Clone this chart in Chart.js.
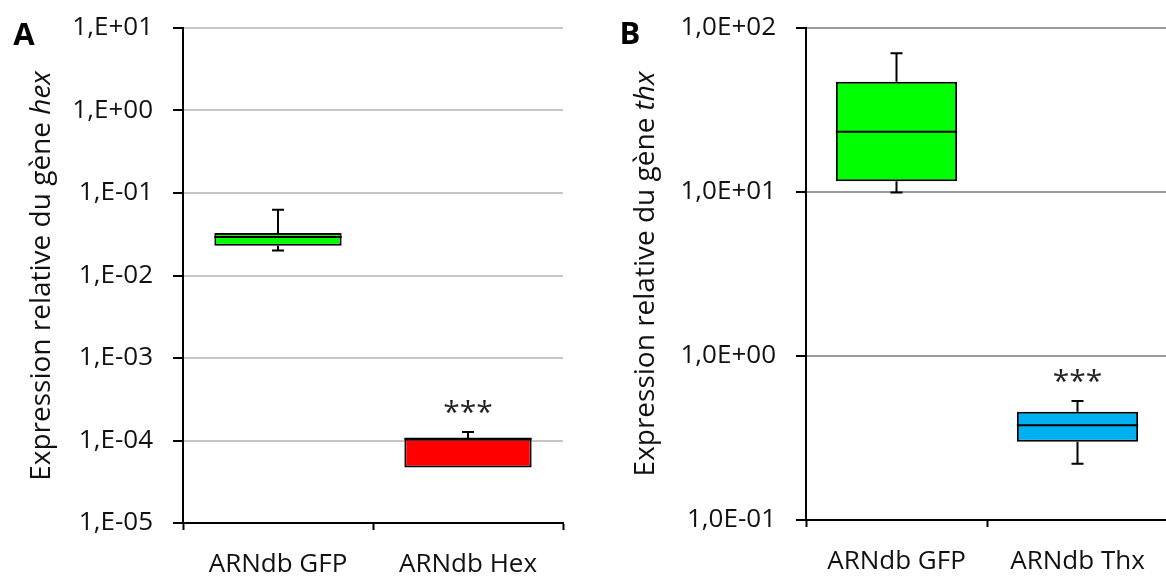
<!DOCTYPE html>
<html lang="fr">
<head>
    <meta charset="UTF-8">
    <title>Expression relative hex / thx</title>
    <script src="https://cdn.jsdelivr.net/npm/chart.js"></script>
    <style>
        html, body { margin: 0; padding: 0; background: #fff; overflow: hidden; }
        .panel { position: absolute; top: 0; }
    </style>
</head>
<body>
    <div class="panel" style="left:0"><canvas id="chartA" width="590" height="581"></canvas></div>
    <div class="panel" style="left:590px"><canvas id="chartB" width="580" height="581"></canvas></div>

    <script>
        // Panel A - hex
        const catsA = ['ARNdb GFP', 'ARNdb Hex'];
        const minA = [0.0201, 0.000047];
        const q1A = [0.0230, 0.000047];
        const medA = [0.0293, 0.000105];
        const q3A = [0.0327, 0.000105];
        const maxA = [0.0628, 0.000127];
        const colorsA = ['#00ff00', '#ff0000'];
        const starsA = ['', '***'];
        const tickValsA = [1e-5, 1e-4, 1e-3, 1e-2, 1e-1, 1e0, 1e1];
        const tickLabelsA = ['1,E-05', '1,E-04', '1,E-03', '1,E-02', '1,E-01', '1,E+00', '1,E+01'];

        // Panel B - thx
        const catsB = ['ARNdb GFP', 'ARNdb Thx'];
        const minB = [9.9, 0.220];
        const q1B = [11.6, 0.300];
        const medB = [23.2, 0.378];
        const q3B = [46.8, 0.457];
        const maxB = [69.7, 0.531];
        const colorsB = ['#00ff00', '#00b0f0'];
        const starsB = ['', '***'];
        const tickValsB = [1e-1, 1e0, 1e1, 1e2];
        const tickLabelsB = ['1,0E-01', '1,0E+00', '1,0E+01', '1,0E+02'];

        const FONT = "'Open Sans', sans-serif";

        // whiskers, median line and significance stars
        const boxExtras = {
            id: 'boxExtras',
            afterDatasetsDraw(chart, args, opts) {
                const ctx = chart.ctx;
                const y = chart.scales.y;
                const bars = chart.getDatasetMeta(0).data;
                ctx.save();
                ctx.strokeStyle = '#000';
                ctx.lineWidth = 2;
                bars.forEach((bar, i) => {
                    const x = bar.x, half = bar.width / 2;
                    const pMin = y.getPixelForValue(opts.min[i]);
                    const pMax = y.getPixelForValue(opts.max[i]);
                    const pQ1 = y.getPixelForValue(opts.q1[i]);
                    const pQ3 = y.getPixelForValue(opts.q3[i]);
                    const pMed = y.getPixelForValue(opts.med[i]);
                    ctx.beginPath();
                    if (pMax < pQ3) {
                        ctx.moveTo(x, pQ3); ctx.lineTo(x, pMax);
                        ctx.moveTo(x - 6, pMax); ctx.lineTo(x + 6, pMax);
                    }
                    if (pMin > pQ1) {
                        ctx.moveTo(x, pQ1); ctx.lineTo(x, pMin);
                        ctx.moveTo(x - 6, pMin); ctx.lineTo(x + 6, pMin);
                    }
                    ctx.moveTo(x - half, pMed); ctx.lineTo(x + half, pMed);
                    ctx.stroke();
                    if (opts.stars[i]) {
                        ctx.fillStyle = '#222';
                        ctx.font = '30px ' + FONT;
                        ctx.textAlign = 'center';
                        ctx.textBaseline = 'alphabetic';
                        ctx.fillText(opts.stars[i], x, pMax - 10);
                    }
                });
                ctx.restore();
            }
        };

        // rotated y title with italic gene name, plus the panel letter
        const panelText = {
            id: 'panelText',
            afterDraw(chart, args, opts) {
                const ctx = chart.ctx;
                ctx.save();
                ctx.fillStyle = '#000';
                ctx.font = 'bold 31px ' + FONT;
                ctx.textAlign = 'center';
                ctx.textBaseline = 'middle';
                ctx.fillText(opts.letter, opts.letterX, opts.letterY);

                ctx.fillStyle = '#111';
                ctx.translate(opts.titleX, opts.titleY);
                ctx.rotate(-Math.PI / 2);
                const normal = '28px ' + FONT, italic = 'italic 28px ' + FONT;
                ctx.font = normal;
                const w1 = ctx.measureText(opts.title).width;
                ctx.font = italic;
                const w2 = ctx.measureText(opts.gene).width;
                let x0 = -(w1 + w2) / 2;
                ctx.textAlign = 'left';
                ctx.font = normal;
                ctx.fillText(opts.title, x0, 0);
                ctx.font = italic;
                ctx.fillText(opts.gene, x0 + w1, 0);
                ctx.restore();
            }
        };

        function makeChart(id, cfg) {
            return new Chart(document.getElementById(id), {
                type: 'bar',
                data: {
                    labels: cfg.cats,
                    datasets: [{
                        data: cfg.q1.map((v, i) => [v, cfg.q3[i]]),
                        backgroundColor: cfg.colors,
                        borderColor: '#000',
                        borderWidth: 2,
                        borderSkipped: false,
                        barPercentage: 0.67,
                        categoryPercentage: 1
                    }]
                },
                options: {
                    responsive: false,
                    animation: false,
                    layout: { padding: { left: 0, top: cfg.padTop, right: cfg.padRight, bottom: 0 } },
                    plugins: {
                        legend: { display: false },
                        tooltip: { enabled: false },
                        boxExtras: { min: cfg.min, q1: cfg.q1, med: cfg.med, q3: cfg.q3, max: cfg.max, stars: cfg.stars },
                        panelText: cfg.text
                    },
                    scales: {
                        x: {
                            grid: { offset: true, drawOnChartArea: false, tickLength: 7, tickColor: '#000', tickWidth: 2 },
                            border: { color: '#000', width: 2 },
                            ticks: { color: '#111', padding: 19, font: { family: FONT, size: 26 } },
                            afterFit: s => { s.height = cfg.xHeight; s.paddingLeft = 0; s.paddingRight = 0; }
                        },
                        y: {
                            type: 'logarithmic',
                            min: cfg.tickVals[0],
                            max: cfg.tickVals[cfg.tickVals.length - 1],
                            afterBuildTicks: s => { s.ticks = cfg.tickVals.map(v => ({ value: v })); },
                            afterFit: s => { s.width = cfg.yWidth; s.paddingTop = 0; s.paddingBottom = 0; },
                            grid: { color: cfg.gridColor, lineWidth: 2, tickLength: 10, tickColor: '#000', tickWidth: 2 },
                            border: { color: '#000', width: 2 },
                            ticks: {
                                color: '#111',
                                padding: 20,
                                font: { family: FONT, size: 26 },
                                callback: (v, i) => cfg.tickLabels[i]
                            }
                        }
                    }
                },
                plugins: [boxExtras, panelText]
            });
        }

        makeChart('chartA', {
            cats: catsA, min: minA, q1: q1A, med: medA, q3: q3A, max: maxA,
            colors: colorsA, stars: starsA, tickVals: tickValsA, tickLabels: tickLabelsA,
            gridColor: '#c6c6c6', yWidth: 183, xHeight: 58, padTop: 28, padRight: 27,
            text: { letter: 'A', letterX: 24, letterY: 36, title: 'Expression relative du gène ', gene: 'hex', titleX: 42, titleY: 276 }
        });

        makeChart('chartB', {
            cats: catsB, min: minB, q1: q1B, med: medB, q3: q3B, max: maxB,
            colors: colorsB, stars: starsB, tickVals: tickValsB, tickLabels: tickLabelsB,
            gridColor: '#9a9a9a', yWidth: 216, xHeight: 61, padTop: 27.6, padRight: 2,
            text: { letter: 'B', letterX: 40, letterY: 35, title: 'Expression relative du gène ', gene: 'thx', titleX: 56, titleY: 274 }
        });
    </script>
</body>
</html>
